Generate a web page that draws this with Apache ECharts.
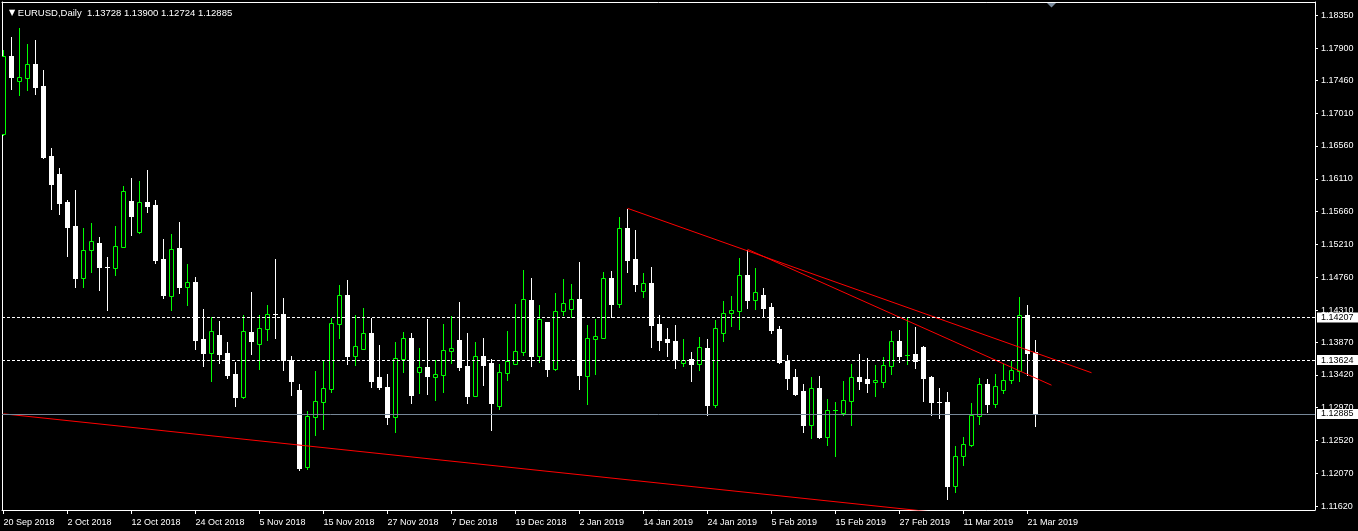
<!DOCTYPE html>
<html><head><meta charset="utf-8">
<script src="https://cdn.jsdelivr.net/npm/echarts@6/dist/echarts.min.js"></script>
<style>html,body{margin:0;padding:0;background:#000;}#c{width:1358px;height:531px;}</style>
</head><body><div id="c"></div>
<script>
const symbolName = 'EURUSD,Daily';
const dateLabels = ['20 Sep 2018','2 Oct 2018','12 Oct 2018','24 Oct 2018','5 Nov 2018','15 Nov 2018','27 Nov 2018','7 Dec 2018','19 Dec 2018','2 Jan 2019','14 Jan 2019','24 Jan 2019','5 Feb 2019','15 Feb 2019','27 Feb 2019','11 Mar 2019','21 Mar 2019'];
const dateTickIndex = [0,8,16,24,32,40,48,56,64,72,80,88,96,104,112,120,128];
const priceTicks = [1.11620,1.12070,1.12520,1.12970,1.13420,1.13870,1.14310,1.14760,1.15210,1.15660,1.16110,1.16560,1.17010,1.17460,1.17900,1.18350];
const levels = [1.14207, 1.13624];
const bidPrice = 1.12885;

const opens = [1.16724,1.17794,1.17455,1.17497,1.17684,1.17383,1.16422,1.16176,1.15791,1.15462,
1.14749,1.15133,1.15229,1.14904,1.14890,1.15178,1.15805,1.15380,1.15791,1.15750,
1.15010,1.14502,1.15161,1.14630,1.14694,1.13912,1.13724,1.13967,1.13720,1.13432,
1.13121,1.14008,1.13848,1.14049,1.14251,1.14255,1.13624,1.13213,1.12152,1.12846,
1.13052,1.13231,1.14122,1.14516,1.13683,1.13779,1.13995,1.13391,1.13254,1.12846,
1.13642,1.13926,1.13464,1.13528,1.13395,1.13423,1.13752,1.13899,1.13542,1.13134,
1.13679,1.13583,1.12997,1.13450,1.13573,1.13738,1.14447,1.13683,1.14145,1.13505,
1.14292,1.14320,1.14461,1.13409,1.13916,1.13930,1.14749,1.14396,1.15435,1.15010,
1.14575,1.14680,1.14118,1.13912,1.13885,1.13587,1.13638,1.13573,1.13789,1.13011,
1.13999,1.14265,1.14300,1.14790,1.14447,1.14516,1.14351,1.14049,1.13610,1.13391,
1.13199,1.12733,1.13240,1.12568,1.12934,1.12897,1.13066,1.13387,1.13364,1.13318,
1.13327,1.13546,1.13885,1.13693,1.13706,1.13803,1.13391,1.13052,1.13048,1.11900,
1.12311,1.12454,1.12860,1.13291,1.13025,1.13217,1.13346,1.13477,1.14237,1.13728];
const highs = [1.17876,1.18051,1.18178,1.17959,1.18014,1.17602,1.16532,1.16258,1.15819,1.15956,
1.15435,1.15503,1.15311,1.15037,1.15462,1.16011,1.16121,1.16080,1.16230,1.15819,
1.15284,1.15353,1.15517,1.14941,1.14763,1.14324,1.14214,1.14159,1.13871,1.13597,
1.14241,1.14557,1.14241,1.14379,1.15010,1.14475,1.13679,1.13295,1.12925,1.13473,
1.13610,1.14200,1.14653,1.14722,1.14241,1.14337,1.14200,1.13830,1.13432,1.13871,
1.14008,1.13995,1.13789,1.14187,1.13624,1.14118,1.14228,1.14420,1.13995,1.13871,
1.13926,1.13638,1.13569,1.14022,1.14392,1.14859,1.14749,1.14379,1.14150,1.14543,
1.14735,1.14667,1.14968,1.14104,1.14187,1.14831,1.14845,1.15586,1.15695,1.15407,
1.14818,1.14900,1.14241,1.14063,1.14104,1.13912,1.13734,1.13940,1.13912,1.14173,
1.14434,1.14502,1.15023,1.15133,1.14886,1.14612,1.14406,1.14091,1.13693,1.13501,
1.13295,1.13391,1.13405,1.13089,1.13048,1.13336,1.13569,1.13706,1.13652,1.13556,
1.13665,1.14022,1.14036,1.14200,1.14077,1.13816,1.13405,1.13240,1.13185,1.12445,
1.12568,1.13034,1.13377,1.13364,1.13432,1.13569,1.13610,1.14488,1.14379,1.13900];
const lows = [1.16711,1.17346,1.17263,1.17328,1.17273,1.16399,1.15700,1.15627,1.15051,1.14630,
1.14630,1.14831,1.14584,1.14310,1.14790,1.15170,1.15339,1.15366,1.15654,1.14955,
1.14479,1.14310,1.14547,1.14383,1.13775,1.13542,1.13336,1.13583,1.13377,1.12993,
1.13103,1.13706,1.13501,1.13899,1.13926,1.13487,1.13144,1.12115,1.12129,1.12595,
1.12678,1.13185,1.13926,1.13569,1.13556,1.13770,1.13254,1.13226,1.12746,1.12637,
1.13460,1.13034,1.13172,1.13158,1.13076,1.13185,1.13583,1.13487,1.13034,1.13125,
1.13281,1.12664,1.12952,1.13350,1.13565,1.13697,1.13546,1.13593,1.13409,1.13491,
1.14241,1.14210,1.13231,1.13025,1.13436,1.13922,1.14210,1.14355,1.14831,1.14571,
1.14492,1.13803,1.13761,1.13679,1.13514,1.13546,1.13340,1.13491,1.12874,1.12984,
1.13889,1.14095,1.14054,1.14337,1.14324,1.14228,1.13995,1.13583,1.13226,1.13150,
1.12637,1.12554,1.12560,1.12458,1.12307,1.12870,1.12737,1.13226,1.13185,1.13130,
1.13258,1.13436,1.13597,1.13569,1.13514,1.13062,1.12874,1.12833,1.11718,1.11818,
1.12184,1.12445,1.12750,1.12915,1.12984,1.13176,1.13309,1.13340,1.13423,1.12724];
const closes = [1.17794,1.17510,1.17502,1.17684,1.17369,1.16413,1.16038,1.15782,1.15453,1.14749,
1.15133,1.15257,1.14900,1.14903,1.15188,1.15942,1.15599,1.15791,1.15741,1.14996,
1.14516,1.15147,1.14630,1.14690,1.13899,1.13720,1.14018,1.13706,1.13418,1.13117,
1.14018,1.13885,1.14059,1.14255,1.14250,1.13624,1.13336,1.12143,1.12856,1.13062,
1.13240,1.14132,1.14516,1.13679,1.13812,1.13990,1.13336,1.13254,1.12842,1.13647,
1.13922,1.13144,1.13524,1.13405,1.13428,1.13761,1.13785,1.13528,1.13130,1.13675,
1.13556,1.13034,1.13455,1.13606,1.13743,1.14457,1.13683,1.14187,1.13505,1.14292,
1.14402,1.14457,1.13423,1.13922,1.13949,1.14745,1.14396,1.15431,1.14996,1.14671,
1.14676,1.14104,1.13899,1.13871,1.13638,1.13628,1.13573,1.13798,1.13007,1.14059,
1.14265,1.14310,1.14786,1.14447,1.14553,1.14337,1.14036,1.13593,1.13377,1.13158,
1.12733,1.13240,1.12568,1.12934,1.12935,1.13071,1.13391,1.13340,1.13313,1.13346,
1.13551,1.13881,1.13683,1.13694,1.13615,1.13377,1.13052,1.13051,1.11896,1.12303,
1.12468,1.12870,1.13291,1.13025,1.13263,1.13346,1.13483,1.14237,1.13724,1.12885];

// trend lines: [barIndex, price] anchor pairs
const trendLineA = [[0, 1.12886], [118, 1.11518]];
const trendLineB = [[78, 1.15705], [136, 1.13450]];
const trendLineC = [[93, 1.15143], [131, 1.13279]];

const BULL = '#00ff00', BEAR = '#ffffff';
const FONT = 'Liberation Sans, Arial, sans-serif';

const candleData = opens.map((o, i) => [i, o, highs[i], lows[i], closes[i]]);
const last = candleData.length - 1;

function renderCandle(params, api) {
  const x = api.value(0), o = api.value(1), h = api.value(2), l = api.value(3), c = api.value(4);
  const pO = api.coord([x, o]), pC = api.coord([x, c]), pH = api.coord([x, h]), pL = api.coord([x, l]);
  const cx = Math.floor(pO[0] + 0.001) + 0.5;
  const bull = c >= o;
  const col = bull ? BULL : BEAR;
  const top = Math.round(Math.min(pO[1], pC[1]));
  const bot = Math.round(Math.max(pO[1], pC[1]));
  const yH = Math.round(pH[1]), yL = Math.round(pL[1]);
  const children = [{
    type: 'line', shape: {x1: cx, y1: yH, x2: cx, y2: yL + 1},
    style: {stroke: col, lineWidth: 1}
  }];
  if (bot - top < 1) {
    children.push({type: 'line', shape: {x1: cx - 2.5, y1: top + 0.5, x2: cx + 2.5, y2: top + 0.5},
      style: {stroke: col, lineWidth: 1}});
  } else if (bull) {
    children.push({type: 'rect', shape: {x: cx - 2, y: top + 0.5, width: 4, height: bot - top},
      style: {fill: '#000000', stroke: col, lineWidth: 1}});
  } else {
    children.push({type: 'rect', shape: {x: cx - 2.5, y: top, width: 5, height: bot - top + 1},
      style: {fill: col}});
  }
  return {type: 'group', children};
}

const xMin = -0.1875, xMax = 163.9375;
const yMin = 1.11567, yMax = 1.18535;

const chart = echarts.init(document.getElementById('c'), null, {renderer: 'canvas'});
const trendStyle = {color: '#ff0000', width: 1};
chart.setOption({
  backgroundColor: '#000000',
  animation: false,
  title: {
    left: 4, top: 3,
    text: '{t|▼} ' + symbolName + '  ' + [opens[last], highs[last], lows[last], closes[last]].map(v => v.toFixed(5)).join(' '),
    textStyle: {color: '#ffffff', fontSize: 9.5, fontWeight: 'normal', fontFamily: FONT,
      rich: {t: {fontSize: 8, color: '#ffffff', fontFamily: 'DejaVu Sans'}}}
  },
  grid: {left: 2, right: 43, top: 2, bottom: 21},
  xAxis: [{
    type: 'value', min: xMin, max: xMax, position: 'bottom',
    splitLine: {show: false},
    axisLine: {show: true, onZero: false, lineStyle: {color: '#ffffff', width: 1}},
    axisTick: {show: true, customValues: dateTickIndex, length: 4, lineStyle: {color: '#ffffff'}},
    axisLabel: {show: true, customValues: dateTickIndex, color: '#ffffff', fontSize: 9, fontFamily: FONT,
      align: 'left', margin: 8, formatter: v => dateLabels[dateTickIndex.indexOf(Math.round(v))] || ''}
  }, {
    type: 'value', min: xMin, max: xMax, position: 'top',
    splitLine: {show: false},
    axisLine: {show: true, onZero: false, lineStyle: {color: '#ffffff', width: 1}},
    axisTick: {show: false}, axisLabel: {show: false}
  }],
  yAxis: [{
    type: 'value', position: 'right', min: yMin, max: yMax,
    splitLine: {show: false},
    axisLine: {show: true, onZero: false, lineStyle: {color: '#ffffff', width: 1}},
    axisTick: {show: true, customValues: priceTicks, length: 3, lineStyle: {color: '#ffffff'}},
    axisLabel: {show: true, customValues: priceTicks, color: '#ffffff', fontSize: 9, fontFamily: FONT,
      margin: 6, formatter: v => v.toFixed(5)}
  }, {
    type: 'value', position: 'left', min: yMin, max: yMax,
    splitLine: {show: false},
    axisLine: {show: true, onZero: false, lineStyle: {color: '#ffffff', width: 1}},
    axisTick: {show: false}, axisLabel: {show: false}
  }],
  series: [{
    type: 'line', data: [], z: 1, silent: true,
    markLine: {
      silent: true, symbol: ['none', 'none'], animation: false, precision: 5,
      label: {show: true, position: 'end', distance: 2, formatter: p => Number(p.value).toFixed(5),
        backgroundColor: '#ffffff', color: '#000000', fontSize: 9, fontFamily: FONT, padding: [1, 8, 0, 4]},
      data: [
        ...levels.map(v => ({yAxis: v, lineStyle: {color: '#ffffff', type: [3, 2], width: 1}})),
        {yAxis: bidPrice, lineStyle: {color: '#778899', type: 'solid', width: 1}}
      ]
    }
  }, {
    type: 'custom', z: 2, clip: true,
    renderItem: renderCandle,
    encode: {x: 0, y: [1, 2, 3, 4]},
    data: candleData
  },
  {type: 'line', z: 3, data: trendLineA, symbol: 'none', lineStyle: trendStyle, silent: true, clip: true},
  {type: 'line', z: 3, data: trendLineB, symbol: 'none', lineStyle: trendStyle, silent: true, clip: true},
  {type: 'line', z: 3, data: trendLineC, symbol: 'none', lineStyle: trendStyle, silent: true, clip: true}
  ],
  graphic: [{
    type: 'polygon', shape: {points: [[1046, 2], [1057, 2], [1051.5, 7.5]]},
    style: {fill: '#7a8a9c'}, silent: true
  }]
});
</script></body></html>
